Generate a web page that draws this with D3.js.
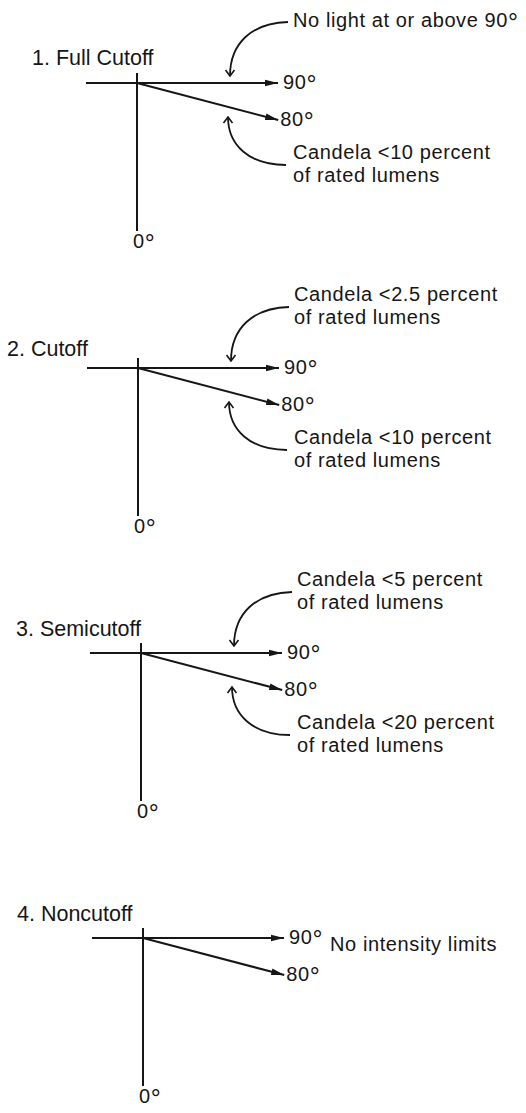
<!DOCTYPE html>
<html>
<head>
<meta charset="utf-8">
<script src="https://cdn.jsdelivr.net/npm/d3@7"></script>
<style>
	body { margin: 0; background: #fff; }
	text { font-family: 'Liberation Sans', Arial, sans-serif; fill: #161616; }
</style>
</head>
<body>
<div id="figure"></div>
<script>
// Data
const panels = ['1. Full Cutoff', '2. Cutoff', '3. Semicutoff', '4. Noncutoff'];
const angles = [90, 80, 0];
const angleLabels = ['90°', '80°', '0°'];
const upperNotes = [
	['No light at or above 90°'],
	['Candela <2.5 percent', 'of rated lumens'],
	['Candela <5 percent', 'of rated lumens'],
	[],
];
const lowerNotes = [
	['Candela <10 percent', 'of rated lumens'],
	['Candela <10 percent', 'of rated lumens'],
	['Candela <20 percent', 'of rated lumens'],
	[],
];
const sideNotes = ['', '', '', 'No intensity limits'];

// Layout
const width = 526;
const height = 1113;
const ink = '#161616';
const originX = [137, 138, 141, 143];
const titleX = [32, 7, 16, 17];
const titleDy = [-18, -12, -17, -17];
const lead = 23;

const svg = d3.select('#figure').append('svg')
	.attr('width', width).attr('height', height)
	.attr('viewBox', [0, 0, width, height]);

// panel rows
const y = d3.scalePoint().domain(panels).range([83, 938]);
// photometric angle -> drawn depression below horizontal (deg), ray length, tail length
const drawAngle = d3.scaleLinear().domain([0, 80, 90]).range([90, 14.7, 0]);
const rayLen = d3.scaleLinear().domain([0, 80, 90]).range([148, 146, 141]);
const tailLen = d3.scaleLinear().domain([0, 80, 90]).range([10, 0, 51]);

const defs = svg.append('defs');
defs.append('marker')
	.attr('id', 'head').attr('viewBox', '0 -4 13 8')
	.attr('refX', 13).attr('refY', 0)
	.attr('markerUnits', 'userSpaceOnUse')
	.attr('markerWidth', 13).attr('markerHeight', 8)
	.attr('orient', 'auto')
	.append('path').attr('d', 'M0,-3.3L13,0L0,3.3Z').attr('fill', ink);
defs.append('marker')
	.attr('id', 'vee').attr('viewBox', '-8 -6 9 12')
	.attr('refX', 0).attr('refY', 0)
	.attr('markerUnits', 'userSpaceOnUse')
	.attr('markerWidth', 9).attr('markerHeight', 12)
	.attr('orient', 'auto')
	.append('path').attr('d', 'M-6,-4.5L0,0L-6,4.5')
	.attr('fill', 'none').attr('stroke', ink).attr('stroke-width', 1.6);

// one text block; lines as tspans, degree sign enlarged and lowered a bit
function label(sel, lines, x, yy) {
	const t = sel.append('text')
		.attr('x', x).attr('y', yy)
		.attr('font-size', 20)
		.attr('letter-spacing', 0.6);
	[].concat(lines).forEach((str, k) => {
		const parts = str.split('°');
		t.append('tspan').attr('x', x).attr('y', yy + k * lead).text(parts[0]);
		if (parts.length > 1) {
			t.append('tspan').attr('font-size', 25).attr('dy', 4).text('°');
		}
	});
	return t;
}

const tip = (a) => {
	const r = (drawAngle(a) * Math.PI) / 180;
	return [rayLen(a) * Math.cos(r), rayLen(a) * Math.sin(r)];
};
const tail = (a) => {
	const r = (drawAngle(a) * Math.PI) / 180;
	return [-tailLen(a) * Math.cos(r), -tailLen(a) * Math.sin(r)];
};

const upperCurve = 'M151,-61C115,-60 93,-40 93,-7';
const lowerCurve = 'M149,82C112,82 91,62 91,34';

panels.forEach((p, i) => {
	const g = svg.append('g').attr('transform', `translate(${originX[i]},${y(p)})`);

	g.append('text')
		.attr('x', titleX[i] - originX[i]).attr('y', titleDy[i])
		.attr('font-size', 21.5)
		.text(p);

	g.selectAll('line.ray')
		.data(angles)
		.join('line')
		.attr('class', 'ray')
		.attr('x1', (a) => tail(a)[0]).attr('y1', (a) => tail(a)[1])
		.attr('x2', (a) => tip(a)[0]).attr('y2', (a) => tip(a)[1])
		.attr('stroke', ink).attr('stroke-width', 2)
		.attr('marker-end', (a) => (a === 0 ? null : 'url(#head)'));

	angles.forEach((a, k) => {
		const [tx, ty] = tip(a);
		if (a === 0) label(g, angleLabels[k], tx - 4, ty + 17);
		else label(g, angleLabels[k], tx + (a === 90 ? 5 : 2), ty + 6);
	});

	if (upperNotes[i].length) {
		g.append('path').attr('d', upperCurve)
			.attr('fill', 'none').attr('stroke', ink).attr('stroke-width', 1.8)
			.attr('marker-end', 'url(#vee)');
		const y0 = upperNotes[i].length > 1 ? -67 : -56;
		label(g, upperNotes[i], 156, y0);
	}
	if (lowerNotes[i].length) {
		g.append('path').attr('d', lowerCurve)
			.attr('fill', 'none').attr('stroke', ink).attr('stroke-width', 1.8)
			.attr('marker-end', 'url(#vee)');
		label(g, lowerNotes[i], 156, 76);
	}
	if (sideNotes[i]) {
		label(g, sideNotes[i], 187, 13);
	}
});
</script>
</body>
</html>
